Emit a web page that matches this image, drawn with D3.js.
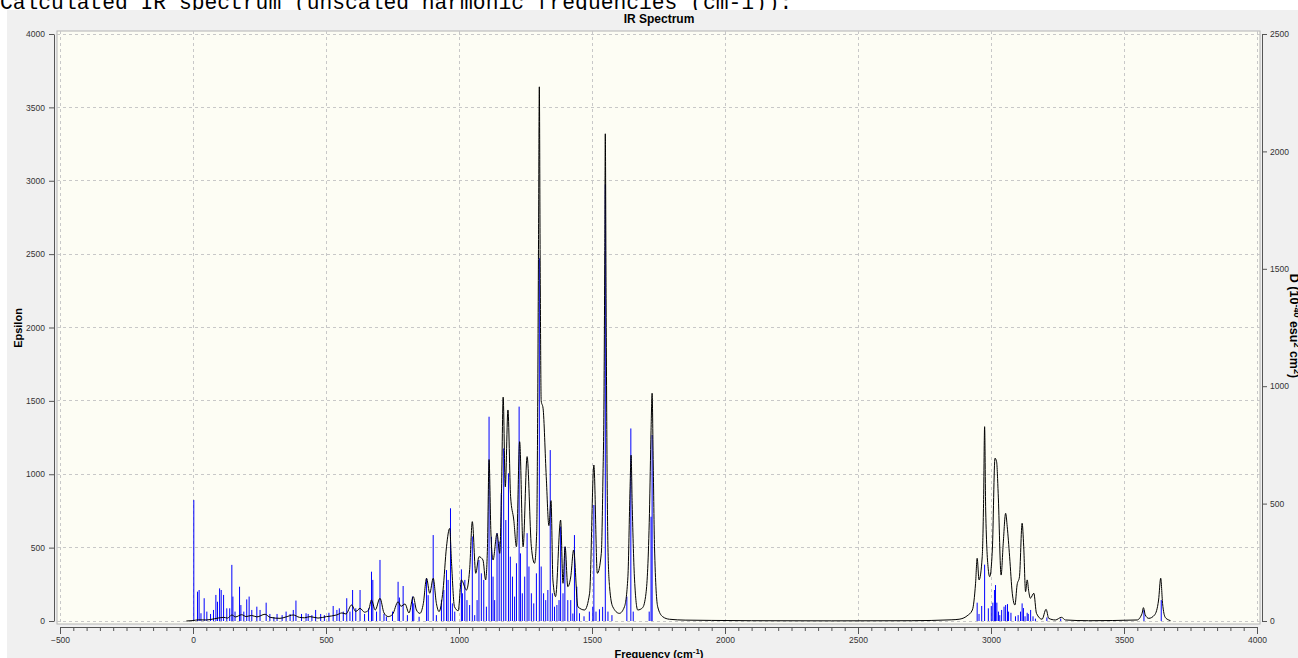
<!DOCTYPE html>
<html>
<head>
<meta charset="utf-8">
<script src="https://cdn.jsdelivr.net/npm/d3@7"></script>
<style>
  body { margin: 0; background: #fff; overflow: hidden; }
  svg { display: block; font-family: "Liberation Sans", Arial, sans-serif; }
</style>
</head>
<body>
<svg id="chart" width="1298" height="658"></svg>
<script>
// tick labels
const freqTicks = [-500, 0, 500, 1000, 1500, 2000, 2500, 3000, 3500, 4000];
const epsTicks = [0, 500, 1000, 1500, 2000, 2500, 3000, 3500, 4000];
const kmTicks = [0, 500, 1000, 1500, 2000, 2500];

// stick spectrum (frequency cm-1, intensity km/mol)
const stickFreq = [3, 17, 23, 30, 42, 52, 66, 77, 86, 92, 100, 106, 115, 127, 138, 146, 150, 158, 175, 180,
    191, 202, 211, 221, 240, 252, 275, 289, 304, 316, 335, 350, 365, 377, 387, 408, 425, 433, 447, 461,
    480, 494, 511, 527, 541, 550, 565, 578, 590, 600, 612, 628, 645, 660, 671, 676, 690, 703, 718, 727,
    750, 771, 776, 790, 806, 825, 830, 850, 878, 884, 903, 915, 934, 943, 953, 959, 968, 975, 984, 1009,
    1013, 1022, 1030, 1040, 1050, 1059, 1068, 1075, 1084, 1093, 1103, 1113, 1122, 1128, 1134, 1143, 1151, 1159, 1168, 1176,
    1186, 1193, 1201, 1209, 1216, 1226, 1231, 1238, 1247, 1256, 1263, 1272, 1281, 1291, 1302, 1309, 1318, 1326, 1334, 1343,
    1351, 1359, 1368, 1376, 1382, 1391, 1398, 1409, 1420, 1428, 1434, 1443, 1453, 1470, 1490, 1503, 1507, 1515, 1528, 1540,
    1550, 1560, 1575, 1631, 1646, 1655, 1715, 1722, 1726,
    2948, 2955, 2965, 2976, 2990, 3001, 3007, 3013, 3017, 3022, 3028, 3033, 3040, 3049, 3055, 3062, 3066, 3075, 3092, 3102,
    3111, 3117, 3122, 3128, 3136, 3140, 3149, 3158, 3167, 3210, 3262, 3575, 3640];
const stickInt = [515, 125, 132, 33, 97, 40, 30, 47, 111, 82, 139, 132, 111, 54, 54, 239, 104, 40, 146, 68,
    40, 92, 104, 47, 61, 47, 78, 30, 17, 30, 25, 40, 30, 47, 87, 30, 33, 30, 25, 47,
    30, 25, 35, 64, 47, 54, 40, 97, 40, 132, 54, 132, 30, 54, 210, 175, 40, 260, 30, 18,
    40, 167, 100, 149, 25, 104, 75, 18, 182, 110, 366, 25, 89, 132, 217, 175, 480, 75, 40, 220,
    118, 175, 89, 68, 360, 25, 89, 260, 203, 175, 61, 870, 359, 189, 89, 374, 338, 544, 735, 430,
    629, 274, 189, 104, 246, 913, 288, 118, 189, 374, 232, 118, 75, 203, 1545, 232, 118, 89, 132, 728,
    118, 61, 68, 89, 402, 118, 316, 89, 89, 32, 366, 146, 33, 20, 40, 61, 494, 40, 50, 60,
    1860, 40, 25, 104, 820, 40, 40, 444, 792,
    78, 30, 64, 240, 54, 64, 78, 132, 153, 78, 40, 25, 47, 61, 68, 72, 40, 35, 20, 25,
    40, 75, 55, 20, 35, 30, 47, 20, 10, 15, 10, 47, 89];

// broadened spectrum (frequency cm-1, epsilon)
const curveFreq = [-25, 0, 20, 50, 80, 115, 130, 146, 160, 183, 200, 220, 240, 271, 290, 327, 350, 377, 400, 420,
    440, 470, 502, 540, 560, 575, 596, 612, 628, 645, 660, 671, 685, 703, 718, 734, 750, 771, 782, 797,
    812, 828, 840, 853, 866, 878, 890, 903, 915, 925, 940, 953, 965, 972, 983, 997, 1009, 1028, 1040, 1050,
    1063, 1075, 1090, 1100, 1107, 1113, 1120, 1128, 1143, 1153, 1160, 1166, 1174, 1184, 1194, 1206, 1216, 1228, 1241, 1256,
    1272, 1284, 1292, 1296, 1299, 1302, 1305, 1309, 1316, 1328, 1338, 1346, 1353, 1363, 1382, 1391, 1399, 1409, 1420, 1431,
    1447, 1472, 1491, 1507, 1520, 1535, 1541, 1545, 1548, 1550, 1553, 1556, 1560, 1566, 1578, 1603, 1622, 1635, 1643, 1647,
    1651, 1660, 1672, 1690, 1703, 1716, 1722, 1726, 1730, 1735, 1747, 1766, 1791, 1850, 1950, 2100, 2400, 2700, 2850, 2880,
    2910, 2930, 2942, 2948, 2955, 2967, 2972, 2976, 2980, 2990, 2995, 3005, 3015, 3021, 3027, 3038, 3046, 3055, 3061, 3070,
    3080, 3090, 3098, 3107, 3117, 3123, 3130, 3136, 3142, 3148, 3161, 3171, 3192, 3207, 3217, 3242, 3265, 3280, 3367, 3549,
    3568, 3573, 3580, 3593, 3615, 3630, 3638, 3645, 3655, 3668, 3675];
const curveEps = [0, 3, 8, 7, 15, 25, 20, 41, 28, 43, 30, 38, 28, 46, 25, 18, 28, 41, 25, 22,
    30, 20, 30, 41, 55, 48, 109, 65, 86, 60, 75, 143, 75, 155, 55, 30, 45, 131, 100, 116,
    55, 166, 75, 52, 120, 291, 189, 291, 120, 64, 211, 506, 631, 393, 97, 70, 280, 211, 350, 677,
    325, 438, 416, 280, 500, 1100, 600, 416, 597, 461, 900, 1525, 915, 1438, 847, 688, 506, 1222, 506, 1120,
    506, 393, 600, 1500, 2600, 3640, 2500, 1500, 1450, 983, 650, 820, 280, 166, 688, 257, 506, 234, 300, 484,
    97, 75, 189, 1063, 325, 461, 961, 1500, 2500, 3320, 2200, 1200, 500, 234, 97, 52, 97, 302, 900, 1130,
    800, 280, 75, 90, 189, 733, 1300, 1552, 1100, 506, 97, 29, 12, 6, 4, 2, 1, 2, 8, 12,
    35, 75, 257, 427, 280, 438, 800, 1324, 756, 348, 302, 484, 1109, 1086, 870, 313, 530, 734, 643, 438,
    189, 109, 245, 302, 666, 506, 200, 280, 200, 155, 189, 52, 12, 80, 18, 7, 25, 7, 2, 7,
    52, 91, 41, 18, 41, 143, 291, 120, 25, 7, 2];

const svg = d3.select("#chart");

const x = d3.scaleLinear().domain([-500, 4000]).range([60, 1257]);
const yEps = d3.scaleLinear().domain([0, 4000]).range([621, 34]);
const yKm = d3.scaleLinear().domain([0, 2500]).range([621, 34]);

const plotLeft = 57, plotRight = 1260, plotTop = 31, plotBottom = 624;

// caption above the chart window
svg.append("text")
    .attr("x", 0).attr("y", 9)
    .style("font-family", "'Liberation Mono', 'Courier New', monospace")
    .style("font-size", "21.3px")
    .attr("fill", "#000")
    .text("Calculated IR spectrum (unscaled harmonic frequencies (cm-1)):");

// gray window panel
svg.append("rect")
    .attr("x", 7).attr("y", 10).attr("width", 1291).attr("height", 648)
    .attr("fill", "#f0f0f0");

svg.append("rect")
    .attr("x", plotLeft).attr("y", plotTop)
    .attr("width", plotRight - plotLeft).attr("height", plotBottom - plotTop)
    .attr("fill", "#fdfdf4")
    .attr("stroke", "#b4b4b4");

// grid
const grid = svg.append("g").attr("stroke", "#c8c8c8").attr("stroke-dasharray", "3,3").attr("shape-rendering", "crispEdges");
grid.selectAll("line.v").data(freqTicks).join("line")
    .attr("class", "v")
    .attr("x1", d => x(d)).attr("x2", d => x(d))
    .attr("y1", plotTop).attr("y2", plotBottom);
grid.selectAll("line.h").data(epsTicks).join("line")
    .attr("class", "h")
    .attr("x1", plotLeft).attr("x2", plotRight)
    .attr("y1", d => yEps(d)).attr("y2", d => yEps(d));

// sticks
const sticks = d3.zip(stickFreq, stickInt);
svg.append("g").selectAll("line").data(sticks).join("line")
    .attr("x1", d => x(d[0])).attr("x2", d => x(d[0]))
    .attr("y1", yKm(0)).attr("y2", d => yKm(d[1]))
    .attr("stroke", "#0000ff")
    .attr("stroke-width", 1);

// broadened curve
const curve = d3.zip(curveFreq, curveEps);
const line = d3.line()
    .x(d => x(d[0]))
    .y(d => yEps(d[1]))
    .curve(d3.curveMonotoneX);
svg.append("path")
    .datum(curve)
    .attr("d", line)
    .attr("fill", "none")
    .attr("stroke", "#000")
    .attr("stroke-width", 1);

// axes
function styleAxis(g) {
    g.select(".domain").attr("stroke", "#555");
    g.selectAll(".tick line").attr("stroke", "#555");
    g.selectAll(".tick text").attr("fill", "#333").style("font-size", "8.5px").style("font-family", "'Liberation Sans', Arial, sans-serif");
}

const minorTicks = d3.range(-500, 4001, 50).filter(v => v % 500 !== 0);
svg.append("g")
    .attr("transform", "translate(0,627)")
    .call(d3.axisBottom(x).tickValues(minorTicks).tickSize(4).tickSizeOuter(0).tickFormat(""))
    .call(g => g.select(".domain").remove())
    .call(styleAxis);
svg.append("g")
    .attr("transform", "translate(0,627)")
    .call(d3.axisBottom(x).tickValues(freqTicks).tickSize(7).tickSizeOuter(0).tickPadding(3).tickFormat(d3.format("d")))
    .call(styleAxis);

svg.append("g")
    .attr("transform", "translate(54,0)")
    .call(d3.axisLeft(yEps).tickValues(epsTicks).tickSize(5).tickSizeOuter(0).tickPadding(4).tickFormat(d3.format("d")))
    .call(styleAxis);

svg.append("g")
    .attr("transform", "translate(1262,0)")
    .call(d3.axisRight(yKm).tickValues(kmTicks).tickSize(5).tickSizeOuter(0).tickPadding(3).tickFormat(d3.format("d")))
    .call(styleAxis);

// titles
svg.append("text")
    .attr("x", 659).attr("y", 23)
    .attr("text-anchor", "middle")
    .style("font-size", "12px").style("font-weight", "bold")
    .text("IR Spectrum");

const xt = svg.append("text")
    .attr("x", 659).attr("y", 658)
    .attr("text-anchor", "middle")
    .style("font-size", "11px").style("font-weight", "bold");
xt.append("tspan").text("Frequency (cm");
xt.append("tspan").attr("dy", -4).style("font-size", "8px").text("-1");
xt.append("tspan").attr("dy", 4).text(")");

svg.append("text")
    .attr("transform", "translate(22,328) rotate(-90)")
    .attr("text-anchor", "middle")
    .style("font-size", "11px").style("font-weight", "bold")
    .text("Epsilon");

// right axis title sits at the window edge, partly cut off as in the original
const rt = svg.append("text")
    .attr("transform", "translate(1290,326) rotate(90)")
    .attr("text-anchor", "middle")
    .style("font-size", "12.5px").style("font-weight", "bold");
rt.append("tspan").text("D (10");
rt.append("tspan").attr("dy", -4).style("font-size", "9px").text("-40");
rt.append("tspan").attr("dy", 4).text(" esu");
rt.append("tspan").attr("dy", -4).style("font-size", "9px").text("2");
rt.append("tspan").attr("dy", 4).text(" cm");
rt.append("tspan").attr("dy", -4).style("font-size", "9px").text("2");
rt.append("tspan").attr("dy", 4).text(")");
</script>
</body>
</html>
